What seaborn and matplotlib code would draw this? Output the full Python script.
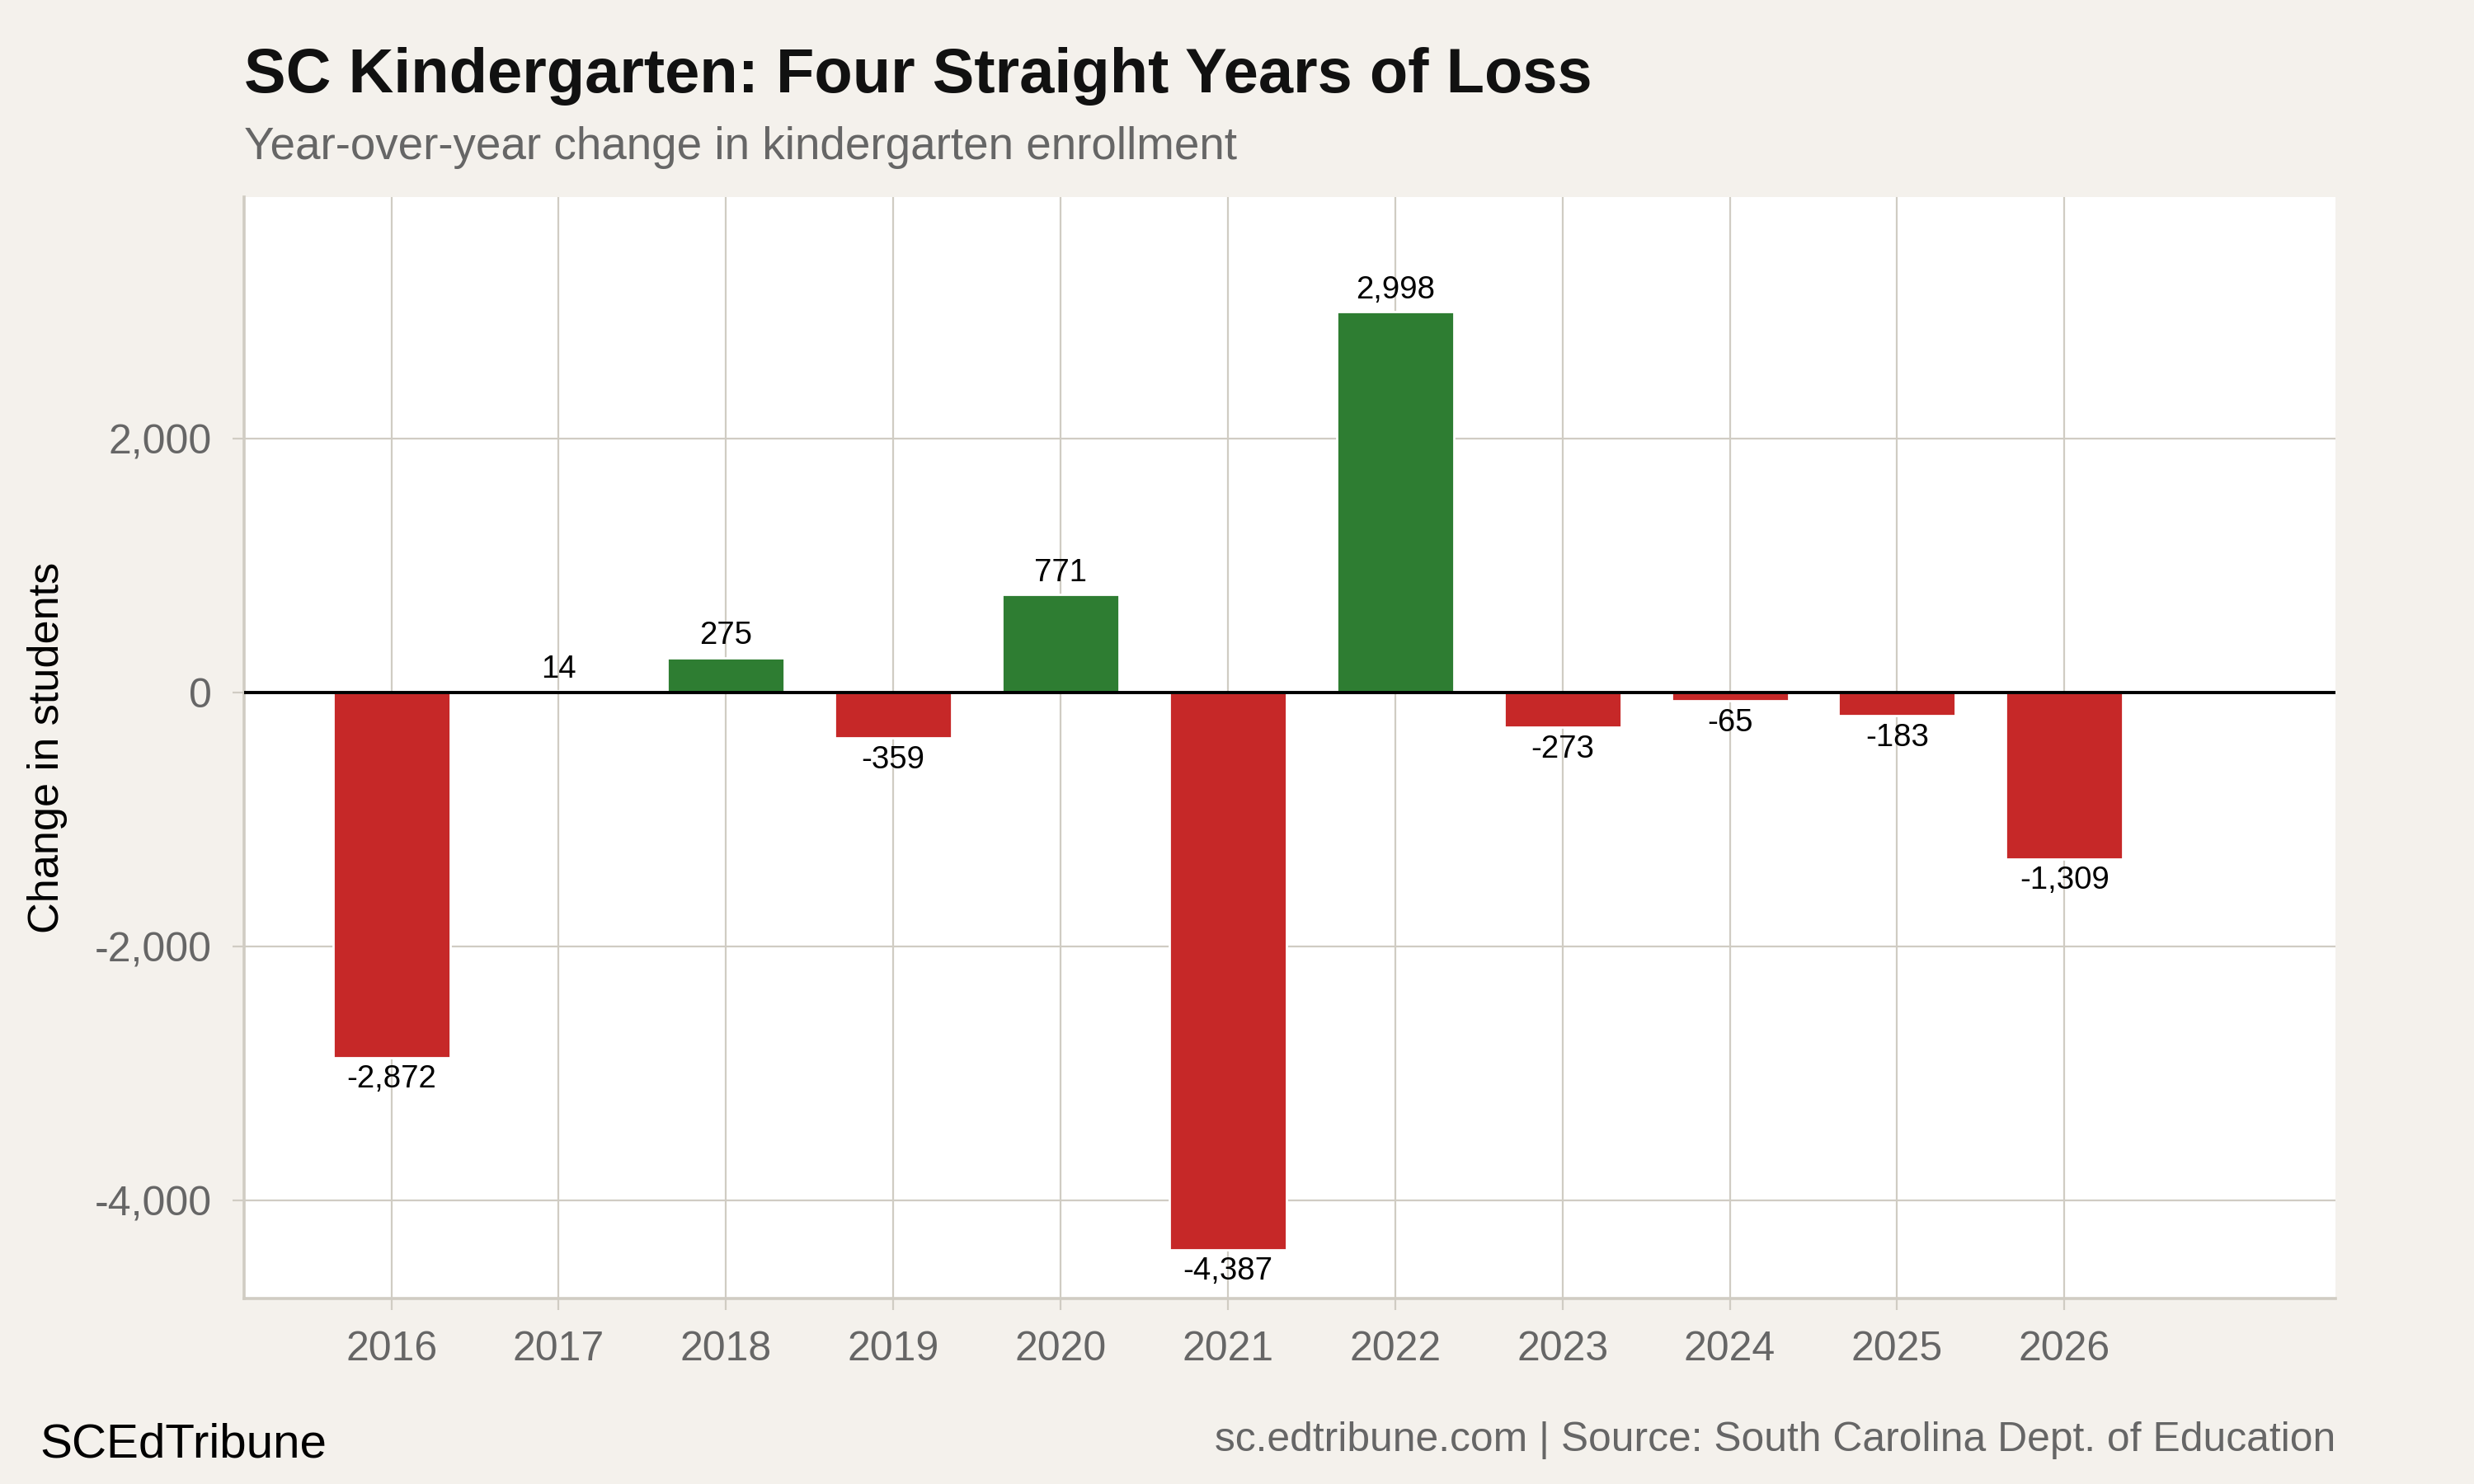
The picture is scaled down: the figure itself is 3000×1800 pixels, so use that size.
import matplotlib
matplotlib.use("Agg")
import matplotlib.pyplot as plt
import seaborn as sns
import pandas as pd
from matplotlib.ticker import FuncFormatter

# chart data
years = ["2016", "2017", "2018", "2019", "2020", "2021", "2022", "2023", "2024", "2025", "2026"]
changes = [-2872, 14, 275, -359, 771, -4387, 2998, -273, -65, -183, -1309]
y_ticks = [-4000, -2000, 0, 2000]

BG = "#F4F1EC"
GRID = "#D0CCC3"
RED = "#C62828"
GREEN = "#2E7D32"
GREY_TXT = "#666666"

df = pd.DataFrame({"year": years, "change": changes})
df["dir"] = ["gain" if v > 0 else "loss" for v in df["change"]]

sns.set_theme(style="white")
plt.rcParams["font.family"] = ["Liberation Sans", "DejaVu Sans"]

fig = plt.figure(figsize=(15, 9), dpi=200, facecolor=BG)
ax = fig.add_axes([0.0987, 0.125, 0.8453, 0.742])
ax.set_facecolor("white")

sns.barplot(data=df, x="year", y="change", hue="dir", order=years,
            palette={"gain": GREEN, "loss": RED}, width=0.7, dodge=False,
            legend=False, saturation=1, ax=ax, zorder=3)

ax.axhline(0, color="black", lw=1.4, zorder=4)

# value labels
for i, v in enumerate(changes):
    if v >= 0:
        ax.annotate(f"{v:,}", (i, v), xytext=(0, 3), textcoords="offset points",
                    ha="center", va="bottom", fontsize=13.8, color="black")
    else:
        ax.annotate(f"{v:,}", (i, v), xytext=(0, -3), textcoords="offset points",
                    ha="center", va="top", fontsize=13.8, color="black")

ax.set_xlim(-0.88, 11.62)
ax.set_ylim(-4770, 3900)
ax.set_yticks(y_ticks)
ax.yaxis.set_major_formatter(FuncFormatter(lambda v, p: f"{int(v):,}"))

ax.grid(True, color=GRID, lw=0.8, zorder=0)
ax.set_axisbelow(True)
for side in ["top", "right"]:
    ax.spines[side].set_visible(False)
for side in ["left", "bottom"]:
    ax.spines[side].set_color(GRID)
    ax.spines[side].set_linewidth(1.3)

ax.tick_params(axis="both", which="major", length=5, width=0.8, color=GRID,
               labelsize=18, labelcolor=GREY_TXT, pad=9, bottom=True, left=True)

ax.set_xlabel("")
ax.set_ylabel("Change in students", fontsize=18.8, color="black", labelpad=12)

fig.text(0.0987, 0.938, "SC Kindergarten: Four Straight Years of Loss",
         fontsize=27.3, fontweight="bold", color="#111111", ha="left", va="baseline")
fig.text(0.0987, 0.893, "Year-over-year change in kindergarten enrollment",
         fontsize=19.7, color=GREY_TXT, ha="left", va="baseline")
fig.text(0.016, 0.018, "SCEdTribune", fontsize=21, color="black",
         ha="left", va="baseline")
fig.text(0.944, 0.022, "sc.edtribune.com | Source: South Carolina Dept. of Education",
         fontsize=17.9, color=GREY_TXT, ha="right", va="baseline")

fig.savefig("out.png", dpi=200, facecolor=BG)
